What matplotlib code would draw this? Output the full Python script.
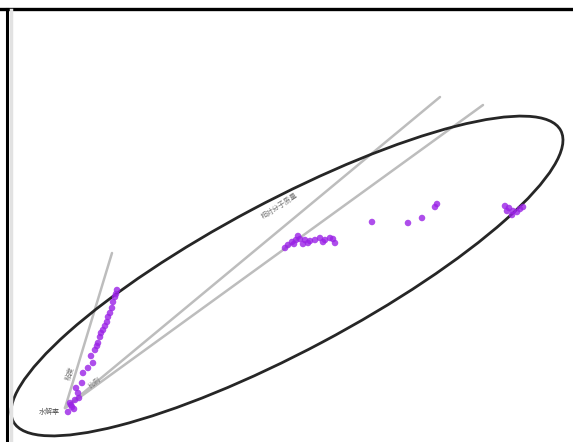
import matplotlib
matplotlib.use("Agg")
import matplotlib.pyplot as plt
from matplotlib.patches import Ellipse
from matplotlib.lines import Line2D
import numpy as np

plt.rcParams['font.family'] = ['Noto Sans CJK SC', 'DejaVu Sans']

# PCA scores (arbitrary units)
cluster_low_x = [0.03, 0.07, 0.10, 0.13, 0.17, 0.18, 0.23, 0.28, 0.30, 0.33, 0.35, 0.38, 0.42, 0.43, 0.48, 0.50, 0.52, 0.47, 0.40, 0.36, 0.06, 0.09, 0.14,
                 0.45, 0.51, 0.32, 0.26, 0.11, 0.05]
cluster_low_y = [-0.04, 0.01, 0.08, 0.15, 0.25, 0.35, 0.40, 0.45, 0.58, 0.65, 0.71, 0.78, 0.86, 0.91, 1.06, 1.11, 1.18, 1.00, 0.82, 0.75, 0.03, -0.01, 0.10,
                 0.95, 1.14, 0.62, 0.52, 0.20, 0.05]
cluster_mid_x = [2.23, 2.27, 2.31, 2.35, 2.40, 2.45, 2.50, 2.55, 2.60, 2.65, 2.70, 2.29, 2.43, 2.58, 2.20, 2.33, 2.38, 2.68]
cluster_mid_y = [1.63, 1.66, 1.68, 1.69, 1.68, 1.67, 1.68, 1.70, 1.68, 1.70, 1.65, 1.64, 1.65, 1.66, 1.60, 1.72, 1.64, 1.69]
sparse_x = [3.07, 3.43, 3.57, 3.70, 3.72]
sparse_y = [1.86, 1.85, 1.90, 2.01, 2.04]
cluster_right_x = [4.40, 4.44, 4.48, 4.52, 4.55, 4.47, 4.42, 4.58]
cluster_right_y = [2.02, 2.00, 1.97, 1.96, 1.99, 1.93, 1.97, 2.01]

# loading vectors (end points)
load_names = ["粘度", "相对分子质量", "比例"]
load_x = [0.47, 3.75, 4.18]
load_y = [1.55, 3.11, 3.03]

# confidence ellipse
ell_cx, ell_cy = 2.22, 1.32
ell_w, ell_h, ell_ang = 6.2, 1.5, 28

fig = plt.figure(figsize=(5.73, 4.42), dpi=100)
ax = fig.add_axes([0, 0, 1, 1])
ax.set_xlim(-0.65, 5.08)
ax.set_ylim(-0.34, 4.08)
ax.axis('off')

gray = '#bdbdbd'
for lx, ly in zip(load_x, load_y):
    ax.plot([0, lx], [0, ly], color=gray, lw=1.8, solid_capstyle='round', zorder=1)

ax.add_patch(Ellipse((ell_cx, ell_cy), ell_w, ell_h, angle=ell_ang, fill=False,
                     edgecolor='#262626', lw=2.0, zorder=2))

purple = '#9a22e6'
for xs, ys in [(cluster_low_x, cluster_low_y), (cluster_mid_x, cluster_mid_y),
               (sparse_x, sparse_y), (cluster_right_x, cluster_right_y)]:
    ax.scatter(xs, ys, s=22, color=purple, edgecolors='none', alpha=0.8, zorder=3)

ax.text(-0.05, -0.04, "水解率", fontsize=5, color='#555555', ha='right', va='center')
ax.text(0.05, 0.35, load_names[0], fontsize=5, color='#777777', rotation=72, ha='center', va='center')
ax.text(2.15, 2.02, load_names[1], fontsize=5, color='#777777', rotation=33, ha='center', va='center')
ax.text(0.30, 0.25, load_names[2], fontsize=5, color='#777777', rotation=37, ha='center', va='center')

# frame
fig.add_artist(Line2D([0, 1], [1 - 8.5/442, 1 - 8.5/442], transform=fig.transFigure, color='black', lw=2.4))
fig.add_artist(Line2D([7/573, 7/573], [0, 1 - 8.5/442], transform=fig.transFigure, color='black', lw=2.2))
fig.add_artist(Line2D([11/573, 11/573], [0, 1 - 10/442], transform=fig.transFigure, color='#e2e2e2', lw=2.5))

fig.savefig("out.png", dpi=100)
